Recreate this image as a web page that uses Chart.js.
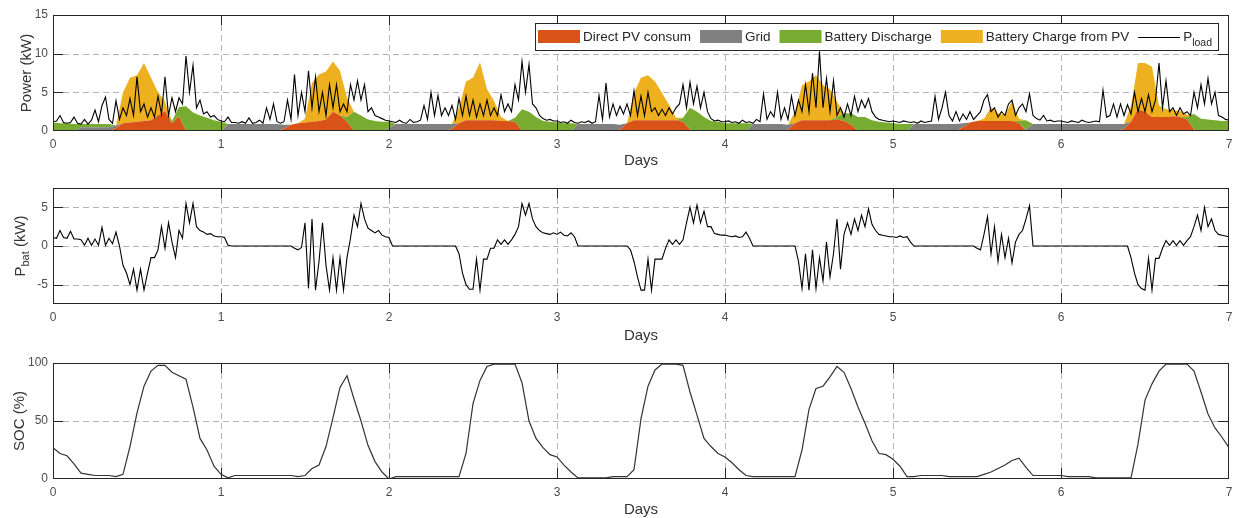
<!DOCTYPE html>
<html>
<head>
<meta charset="utf-8">
<script src="https://cdn.jsdelivr.net/npm/chart.js@4.4.1/dist/chart.umd.min.js"></script>
<style>
  body { margin: 0; background: #fff; }
  canvas.panel { position: absolute; left: 0; }
</style>
</head>
<body>
<canvas id="powerChart" class="panel" width="1240" height="172" style="top:0;width:1240px;height:172px"></canvas>
<canvas id="batChart" class="panel" width="1240" height="172" style="top:172px;width:1240px;height:172px"></canvas>
<canvas id="socChart" class="panel" width="1240" height="174" style="top:344px;width:1240px;height:174px"></canvas>
<script>
// tick labels
const dayTicks = [0, 1, 2, 3, 4, 5, 6, 7];
const powerTicks = [0, 5, 10, 15];
const pbatTicks = [-5, 0, 5];
const socTicks = [0, 50, 100];

const seriesNames = ['Direct PV consum', 'Grid', 'Battery Discharge', 'Battery Charge from PV'];

// hourly values (kW), one row per day
const pvDirect = [
  0,0,0,0,0,0,0,0,0,0.4,1.0,1.1,1.2,1.3,1.4,2.0,2.6,1.0,1.9,0,0,0,0,0,
  0,0,0,0,0,0,0,0,0,0.3,0.8,1.0,1.1,1.2,1.3,1.5,2.5,2.0,1.2,0,0,0,0,0,
  0,0,0,0,0,0,0,0,0,0.3,1.0,1.4,1.4,1.4,1.4,1.4,1.3,1.3,1.2,0,0,0,0,0,
  0,0,0,0,0,0,0,0,0,0.2,1.0,1.4,1.4,1.4,1.4,1.4,1.4,1.4,1.2,0.2,0,0,0,0,
  0,0,0,0,0,0,0,0,0,0.2,1.0,1.4,1.4,1.4,1.4,1.4,1.5,1.3,0.8,0,0,0,0,0,
  0,0,0,0,0,0,0,0,0,0,0.5,1.1,1.3,1.3,1.3,1.3,1.3,1.3,1.0,0,0,0,0,0,
  0,0,0,0,0,0,0,0,0,0.3,1.2,2.8,2.5,1.8,1.8,1.8,1.9,1.8,1.5,0.2,0,0,0,0,
  0
];
const gridPower = [
  0,0,0,0,0.5,0.5,0.5,0.5,0.5,0.3,0,0,0,0,0,0,0,0,0,0,0,0,0,0,
  0,0.9,0.9,0.9,0.9,0.9,0.9,0.9,0.9,0.5,0,0,0,0,0,0,0,0,0,0,0,0,0,0,
  0.4,0.9,0.9,0.9,0.9,0.9,0.9,0.9,0.9,0.6,0,0,0,0,0,0,0,0,0,0,0,0,0,0,
  0,0,0,0.9,0.9,0.9,0.9,0.9,0.9,0.6,0,0,0,0,0,0,0,0,0,0,0,0,0,0,
  0,0,0,0,0.9,0.9,0.9,0.9,0.9,0.6,0,0,0,0,0,0,0,0,0,0,0,0,0,0,
  0,0,0,0.9,0.9,0.9,0.9,0.9,0.9,0.9,0.5,0,0,0,0,0,0,0,0,0.2,0.9,0.9,0.9,0.9,
  0.9,0.9,0.9,0.9,0.9,0.9,0.9,0.9,0.9,0.6,0,0,0,0,0,0,0,0,0,0,0,0,0,0,
  0
];
const batDischarge = [
  1.1,1.0,1.0,0.9,0.4,0.4,0.4,0.4,0.4,0,0,0,0,0,0,0,0,0.3,1.2,3.2,2.4,2.0,1.7,1.4,
  1.2,0,0,0,0,0,0,0,0,0,0,0,0,0,0,0,0,0,0.6,2.5,2.0,1.5,1.3,1.2,
  0.8,0,0,0,0,0,0,0,0,0,0,0,0,0,0,0,0,0,0.5,2.8,2.5,1.8,1.3,1.2,
  1.1,1.0,1.0,0,0,0,0,0,0,0,0,0,0,0,0,0,0,0,0.5,2.8,2.5,1.8,1.3,1.2,
  1.0,1.0,1.0,1.0,0,0,0,0,0,0,0,0,0,0,0,0,0.3,1.0,1.5,1.8,1.8,1.4,1.2,1.1,
  1.0,0.9,0.9,0,0,0,0,0,0,0,0,0,0,0,0,0,0,0,0.3,1.2,0,0,0,0,
  0,0,0,0,0,0,0,0,0,0,0,0,0,0,0,0,0,0,0.3,2.0,1.6,1.5,1.4,1.3,
  1.3
];
const batCharge = [
  0,0,0,0,0,0,0,0,0,0,4.0,5.8,6.0,7.5,5.5,3.0,1.2,0,0,0,0,0,0,0,
  0,0,0,0,0,0,0,0,0,0,0,0,0.5,5.0,6.0,6.2,6.5,5.8,2.5,0,0,0,0,0,
  0,0,0,0,0,0,0,0,0,0,2.0,5.0,5.5,7.5,4.0,2.5,0.5,0,0,0,0,0,0,0,
  0,0,0,0,0,0,0,0,0,0,0,3.5,5.5,5.8,5.0,3.5,2.0,0.3,0,0,0,0,0,0,
  0,0,0,0,0,0,0,0,0,0,1.5,4.5,5.0,5.8,4.5,4.0,2.0,0,0,0,0,0,0,0,
  0,0,0,0,0,0,0,0,0,0,0,0,0,0.3,1.8,1.0,0.8,2.5,0.3,0,0,0,0,0,
  0,0,0,0,0,0,0,0,0,0,2.0,6.0,6.3,6.5,1.5,1.0,0.8,0.8,0.3,0,0,0,0,0,
  0
];

// half-hourly load (kW), one row per day
const pLoad = [
  1.2,1.3,2.0,1.1,1.0,1.1,1.8,1.0,0.9,1.5,0.9,1.4,2.7,1.2,3.3,4.4,1.5,1.0,3.9,1.5,3.0,2.0,4.2,2.0,
  7.0,2.5,3.5,1.8,3.0,1.8,4.5,2.2,7.0,2.0,4.3,2.5,4.3,3.5,9.7,5.0,8.5,3.0,4.0,2.2,2.5,1.8,2.0,1.5,
  1.3,1.2,1.8,1.1,1.1,1.0,1.2,1.0,1.7,1.0,1.1,1.4,1.0,3.0,1.5,3.5,1.2,1.0,1.2,4.0,1.5,7.3,2.0,5.0,
  2.5,7.8,3.0,7.0,2.5,5.0,2.0,6.0,3.0,6.0,2.5,3.5,2.5,6.0,4.0,6.5,4.0,6.0,2.5,3.0,2.0,1.8,1.6,1.4,
  1.3,1.2,1.1,1.4,1.1,1.0,1.5,1.1,1.2,1.4,3.3,1.5,5.0,2.0,4.6,2.0,3.0,2.0,3.3,1.5,4.2,2.0,4.5,2.0,
  4.0,1.8,3.5,2.0,4.0,2.0,3.0,2.0,4.7,2.5,3.5,2.5,6.0,4.0,9.0,5.0,8.6,3.5,3.0,2.0,1.6,1.4,1.5,1.3,
  1.3,1.1,1.2,1.0,1.4,1.1,1.0,1.2,1.1,1.3,1.0,1.2,4.6,1.5,6.2,1.8,3.5,2.0,3.2,2.2,3.5,2.0,5.2,2.0,
  4.5,2.0,5.0,2.5,3.0,2.0,2.8,2.0,3.0,2.2,3.0,3.5,6.0,3.0,6.3,3.5,5.8,3.0,5.0,2.5,1.6,1.3,1.4,1.2,
  1.2,1.3,1.1,1.2,1.0,1.4,1.1,1.2,1.0,1.5,1.2,4.8,1.5,2.5,1.8,5.0,1.5,3.0,1.5,4.5,2.0,4.0,2.5,6.0,
  2.5,7.5,3.0,10.3,3.0,6.8,2.5,6.5,2.0,3.0,1.8,3.5,2.0,4.5,2.5,4.0,3.0,4.2,2.5,1.8,1.5,1.4,1.3,1.2,
  1.3,1.2,1.1,1.3,1.2,1.1,1.2,1.0,1.3,1.1,1.2,1.3,4.5,1.5,3.0,5.0,2.0,1.3,2.5,1.3,2.2,1.5,2.5,1.5,
  2.0,2.5,4.0,4.7,2.5,3.0,1.8,2.5,2.0,3.5,4.0,2.0,3.0,3.5,2.5,4.8,2.0,1.6,1.4,2.0,1.3,1.4,1.2,1.3,
  1.3,1.2,1.1,1.3,1.2,1.1,1.4,1.2,1.1,1.2,1.3,1.2,5.3,1.8,2.0,3.5,1.8,3.5,2.0,3.4,2.2,5.0,2.5,4.2,
  2.5,4.7,2.5,4.0,8.8,3.0,6.5,2.5,3.0,2.0,3.0,2.2,2.5,2.0,5.0,3.0,6.0,3.5,6.8,3.5,5.0,2.0,1.8,1.5,
  1.4
];

// half-hourly battery power (kW), one row per day
const pBat = [
  1.1,1.0,2.0,1.1,1.0,1.9,0.9,0.9,0.8,0.1,1.0,0.1,0.9,0.1,2.4,0.1,1.0,0.3,1.8,0,-2.5,-3.5,-5.0,-3.0,
  -5.7,-3.0,-5.7,-3.5,-1.5,-1.5,-0.5,2.5,-0.3,3.0,0.5,-1.5,2.0,1.0,5.5,3.0,5.5,2.5,2.0,1.8,1.5,1.6,1.3,1.2,
  1.2,1.1,0.1,0,0,0,0,0,0,0,0,0,0,0,0,0,0,0,0,0,0,-0.3,-0.5,-0.2,
  3.0,-5.5,3.5,-5.7,-2.0,3.0,-2.5,-5.7,-1.5,-5.7,-1.5,-5.7,-1.5,1.0,4.0,2.5,5.5,3.5,2.3,2.0,1.7,2.0,1.4,1.2,
  1.1,0,0,0,0,0,0,0,0,0,0,0,0,0,0,0,0,0,0,0,-1.0,-3.5,-5.0,-5.6,
  -5.6,-1.7,-5.7,-1.7,-1.7,-0.3,-0.3,0.8,0.2,0.8,0.2,0.8,1.5,2.5,5.5,4.0,5.5,3.5,2.5,2.0,1.7,1.6,1.5,1.7,
  1.5,1.8,1.4,1.3,1.7,1.2,0,0,0,0,0,0,0,0,0,0,0,0,0,0,0,-0.5,-2.0,-4.0,
  -5.7,-5.7,-1.7,-5.7,-1.7,-1.7,-1.7,-0.3,0.8,0.2,0.8,0.2,0.8,3.0,5.0,3.0,5.3,3.0,4.5,2.5,2.5,1.6,1.5,1.4,
  1.4,1.3,1.2,1.3,1.1,1.2,1.8,1.0,0,0,0,0,0,0,0,0,0,0,0,0,0,-2.0,-5.5,-1.0,
  -5.7,-0.5,-5.5,-1.5,-4.5,0.5,-4.0,-1.0,3.5,-3.0,1.5,3.0,1.5,3.5,2.0,4.0,2.5,4.8,2.8,2.0,1.5,1.4,1.3,1.2,
  1.2,1.1,1.3,1.1,1.2,0.5,0,0,0,0,0,0,0,0,0,0,0,0,0,0,0,0,0,0,
  -0.3,-0.5,1.5,3.8,-1.0,2.5,-2.0,1.5,-1.5,1.0,-2.2,0.5,1.5,2.0,3.5,5.2,0,0,0,0,0,0,0,0,
  0,0,0,0,0,0,0,0,0,0,0,0,0,0,0,0,0,0,0,0,-1.5,-3.5,-5.0,-5.5,
  -5.7,-1.6,-5.7,-1.6,-1.6,-0.3,0.7,0.1,0.7,0.1,0.7,0.1,0.7,1.2,2.5,4.0,2.0,5.0,2.5,3.5,2.0,1.5,1.4,1.3,
  1.2
];

// hourly state of charge (%), one row per day
const soc = [
  27,22,20,13,5,4,3,3,3,2,4,28,57,80,93,98,98,92,89,86,62,35,25,11,
  4,1,3,3,3,3,3,3,3,3,3,2,3,9,12,28,53,79,89,69,50,29,15,6,
  0,2,2,2,2,2,2,2,2,2,2,22,65,85,97,99,99,99,99,83,50,35,27,21,
  19,12,6,1,1,1,1,1,2,2,2,8,52,80,94,99,99,99,98,75,55,35,28,22,
  19,14,8,3,2,2,2,2,2,2,2,25,60,78,80,88,97,92,78,62,48,33,22,21,
  17,11,2,2,3,3,3,3,2,2,2,2,2,4,6,9,12,16,18,10,3,3,3,3,
  3,2,2,2,2,1,1,1,1,1,1,30,68,82,93,99,99,99,99,93,75,56,44,36,
  27
];

const FONT = '"Liberation Sans", Arial, Helvetica, sans-serif';
const AXIS_COLOR = '#262626';
const colors = ['#D95319', '#808080', '#77AC30', '#EDB120'];

Chart.defaults.font.family = FONT;
Chart.defaults.color = '#4d4d4d';

const HOUR = 1 / 24;
const HALF_HOUR = 1 / 48;
const toPoints = (vals, step) => vals.map((v, i) => ({ x: i * step, y: v }));

function drawRotatedTitle(ctx, parts, x, cy) {
  ctx.save();
  ctx.translate(x, cy);
  ctx.rotate(-Math.PI / 2);
  ctx.textAlign = 'left';
  ctx.textBaseline = 'alphabetic';
  let total = 0;
  parts.forEach(p => {
    ctx.font = p.size + 'px ' + FONT;
    p.w = ctx.measureText(p.text).width;
    total += p.w;
  });
  let cx = -total / 2;
  parts.forEach(p => {
    ctx.font = p.size + 'px ' + FONT;
    ctx.fillText(p.text, cx, p.dy || 0);
    cx += p.w;
  });
  ctx.restore();
}

// MATLAB style box, inward ticks, dashed grid and axis titles
const matlabAxes = {
  id: 'matlabAxes',
  beforeDatasetsDraw(chart) {
    const { ctx, chartArea: a, scales: { x, y } } = chart;
    ctx.save();
    ctx.strokeStyle = '#b4b4b4';
    ctx.lineWidth = 1;
    ctx.setLineDash([6, 4]);
    ctx.beginPath();
    x.ticks.forEach(t => {
      const px = Math.round(x.getPixelForValue(t.value)) + 0.5;
      if (px < a.left + 2 || px > a.right - 2) return;
      ctx.moveTo(px, a.top); ctx.lineTo(px, a.bottom);
    });
    y.ticks.forEach(t => {
      const py = Math.round(y.getPixelForValue(t.value)) + 0.5;
      if (py < a.top + 2 || py > a.bottom - 2) return;
      ctx.moveTo(a.left, py); ctx.lineTo(a.right, py);
    });
    ctx.stroke();
    ctx.restore();
  },
  afterDatasetsDraw(chart, args, opts) {
    const { ctx, chartArea: a, scales: { x, y } } = chart;
    const L = Math.round(a.left), R = Math.round(a.right) - 1;
    const T = Math.round(a.top), B = Math.round(a.bottom) - 1;
    ctx.save();
    ctx.strokeStyle = AXIS_COLOR;
    ctx.lineWidth = 1;
    ctx.beginPath();
    x.ticks.forEach(t => {
      const px = Math.min(Math.max(Math.round(x.getPixelForValue(t.value)), L), R) + 0.5;
      ctx.moveTo(px, B); ctx.lineTo(px, B - 10);
      ctx.moveTo(px, T); ctx.lineTo(px, T + 10);
    });
    y.ticks.forEach(t => {
      const py = Math.min(Math.max(Math.round(y.getPixelForValue(t.value)), T), B) + 0.5;
      ctx.moveTo(L, py); ctx.lineTo(L + 10, py);
      ctx.moveTo(R, py); ctx.lineTo(R - 10, py);
    });
    ctx.stroke();
    ctx.strokeRect(L + 0.5, T + 0.5, R - L, B - T);

    ctx.fillStyle = '#333';
    ctx.font = '15px ' + FONT;
    ctx.textAlign = 'center';
    ctx.textBaseline = 'middle';
    ctx.fillText('Days', (a.left + a.right) / 2, a.bottom + opts.xTitleGap);
    drawRotatedTitle(ctx, opts.yTitle, opts.yTitleX, (a.top + a.bottom) / 2);
    ctx.restore();
  }
};

// legend box of the power panel
const powerLegend = {
  id: 'powerLegend',
  afterDraw(chart) {
    const { ctx, chartArea: a } = chart;
    const right = a.right - 11, top = a.top + 8, h = 27;
    const left = 535;
    ctx.save();
    ctx.fillStyle = '#fff';
    ctx.fillRect(left, top, right - left, h);
    ctx.strokeStyle = AXIS_COLOR;
    ctx.lineWidth = 1;
    ctx.strokeRect(left + 0.5, top + 0.5, right - left, h);

    ctx.font = '13.5px ' + FONT;
    ctx.textBaseline = 'middle';
    ctx.textAlign = 'left';
    const mid = top + 14;
    let x = left + 3;
    seriesNames.forEach((name, i) => {
      ctx.fillStyle = colors[i];
      ctx.fillRect(x, mid - 7, 42, 13);
      ctx.fillStyle = AXIS_COLOR;
      ctx.fillText(name, x + 45, mid);
      x += 45 + ctx.measureText(name).width + 9;
    });
    ctx.strokeStyle = '#000';
    ctx.beginPath();
    ctx.moveTo(x, mid + 0.5); ctx.lineTo(x + 42, mid + 0.5);
    ctx.stroke();
    ctx.fillStyle = AXIS_COLOR;
    ctx.textBaseline = 'alphabetic';
    ctx.fillText('P', x + 45, mid + 4);
    const pw = ctx.measureText('P').width;
    ctx.font = '10.5px ' + FONT;
    ctx.fillText('load', x + 45 + pw, mid + 9);
    ctx.restore();
  }
};

function scales(yTicks, yMin, yMax, xHeight, stacked) {
  const tickFont = { size: 12 };
  return {
    x: {
      type: 'linear', min: 0, max: 7,
      afterBuildTicks: s => { s.ticks = dayTicks.map(v => ({ value: v })); },
      ticks: { padding: 6, font: tickFont, color: '#4d4d4d', maxRotation: 0 },
      grid: { display: false, drawTicks: false },
      border: { display: false },
      afterFit: s => { s.height = xHeight; }
    },
    y: {
      min: yMin, max: yMax, stacked: stacked,
      afterBuildTicks: s => { s.ticks = yTicks.map(v => ({ value: v })); },
      ticks: { padding: 5, font: tickFont, color: '#4d4d4d' },
      grid: { display: false, drawTicks: false },
      border: { display: false },
      afterFit: s => { s.width = 53; }
    }
  };
}

function baseOptions(top, yTicks, yMin, yMax, xHeight, stacked, axesOpts) {
  return {
    responsive: false,
    animation: false,
    devicePixelRatio: 1,
    layout: { padding: { top: top, right: 11, left: 0, bottom: 0 } },
    elements: { point: { radius: 0 }, line: { tension: 0 } },
    plugins: { legend: { display: false }, tooltip: { enabled: false }, matlabAxes: axesOpts },
    scales: scales(yTicks, yMin, yMax, xHeight, stacked)
  };
}

const supplySeries = [pvDirect, gridPower, batDischarge, batCharge];

new Chart(document.getElementById('powerChart'), {
  type: 'line',
  data: {
    datasets: [
      { label: 'Pload', data: toPoints(pLoad, HALF_HOUR), stack: 'load',
        borderColor: '#000', borderWidth: 1.1, fill: false }
    ].concat(supplySeries.map((vals, i) => ({
      label: seriesNames[i], data: toPoints(vals, HOUR), stack: 'supply',
      borderColor: 'rgba(0,0,0,0)', borderWidth: 0, backgroundColor: colors[i],
      fill: i === 0 ? 'origin' : '-1'
    })))
  },
  options: baseOptions(15, powerTicks, 0, 15, 41, true,
    { xTitleGap: 30, yTitleX: 31, yTitle: [{ text: 'Power (kW)', size: 15 }] }),
  plugins: [matlabAxes, powerLegend]
});

new Chart(document.getElementById('batChart'), {
  type: 'line',
  data: {
    datasets: [{ label: 'Pbat', data: toPoints(pBat, HALF_HOUR), borderColor: '#000', borderWidth: 1.1, fill: false }]
  },
  options: baseOptions(16, pbatTicks, -7.5, 7.5, 40, false,
    { xTitleGap: 32, yTitleX: 25, yTitle: [
      { text: 'P', size: 15 }, { text: 'bat', size: 11, dy: 4 }, { text: ' (kW)', size: 15 }] }),
  plugins: [matlabAxes]
});

new Chart(document.getElementById('socChart'), {
  type: 'line',
  data: {
    datasets: [{ label: 'SOC', data: toPoints(soc, HOUR), borderColor: '#333', borderWidth: 1.2, fill: false }]
  },
  options: baseOptions(19, socTicks, 0, 100, 39, false,
    { xTitleGap: 31, yTitleX: 24, yTitle: [{ text: 'SOC (%)', size: 15 }] }),
  plugins: [matlabAxes]
});
</script>
</body>
</html>
